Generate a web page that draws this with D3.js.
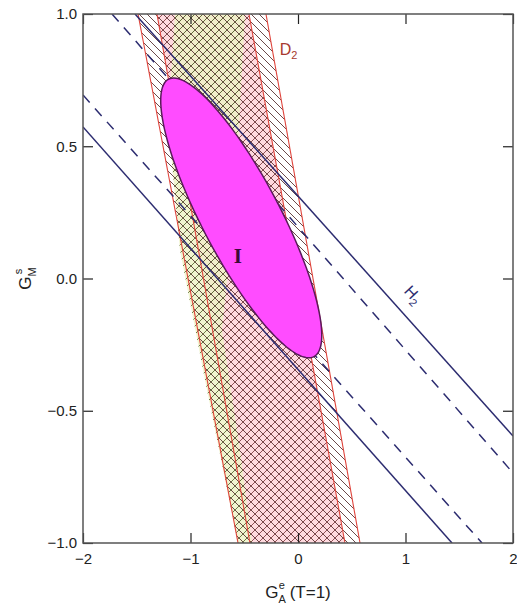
<!DOCTYPE html>
<html>
<head>
  <meta charset="utf-8">
  <title>GMs vs GAe</title>
  <script src="https://d3js.org/d3.v7.min.js"></script>
  <style>
    body { margin: 0; background: #fff; }
    text { font-family: "Liberation Sans", Arial, sans-serif; }
  </style>
</head>
<body>
<div id="vis"></div>
<script>
  // tick values
  var xTicks = [-2, -1, 0, 1, 2];
  var yTicks = [-1.0, -0.5, 0.0, 0.5, 1.0];

  // D2 bands, each boundary given as [[GAe, GMs], [GAe, GMs]]
  var outerLeft = [[-1.488, 1], [-0.558, -1]];
  var outerRight = [[-0.298, 1], [0.577, -1]];
  var innerLeft = [[-1.312, 1], [-0.447, -1]];
  var innerRight = [[-0.456, 1], [0.437, -1]];

  // greenish overlap region (outline vertices)
  var greenRegion = [[-1.144, 1], [-0.493, 1], [-0.586, 0.297], [-0.707, -0.195],
    [-0.540, -0.648], [-0.428, -1], [-0.558, -1], [-0.865, -0.384],
    [-1.098, 0.108], [-1.209, 0.599]];

  // H2 lines
  var h2Solid = [[[-1.516, 1], [2, -0.5955]], [[-2, 0.5728], [1.4326, -1]]];
  var h2Dashed = [[[-1.730, 1], [2, -0.7354]], [[-2, 0.6938], [1.7116, -1]]];

  // ellipse I: center, half extents, phase
  var ellipseCenter = [-0.528, 0.229];
  var ellipseRadii = [0.749, 0.529];
  var ellipsePhase = 147;

  var W = 517, H = 608;
  var margin = { top: 14, right: 4, bottom: 65, left: 83 };
  var w = W - margin.left - margin.right, h = H - margin.top - margin.bottom;

  var svg = d3.select('#vis').append('svg')
    .attr('width', W).attr('height', H);

  var defs = svg.append('defs');
  defs.append('clipPath').attr('id', 'clip')
    .append('rect').attr('width', w).attr('height', h);

  function hatch(id, dir, color) {
    var p = defs.append('pattern').attr('id', id)
      .attr('patternUnits', 'userSpaceOnUse')
      .attr('width', 8).attr('height', 8);
    p.append('path')
      .attr('d', dir > 0 ? 'M-2,2 l4,-4 M0,8 l8,-8 M6,10 l4,-4' : 'M-2,6 l4,4 M0,0 l8,8 M6,-2 l4,4')
      .attr('stroke', color).attr('stroke-width', 0.9);
  }
  hatch('hOuter', -1, '#5a3434');
  hatch('hInner', 1, '#804044');
  hatch('hGreen', 1, '#5c6a38');

  var g = svg.append('g')
    .attr('transform', 'translate(' + margin.left + ',' + margin.top + ')');

  var x = d3.scaleLinear().domain([-2, 2]).range([0, w]);
  var y = d3.scaleLinear().domain([-1, 1]).range([h, 0]);

  var line = d3.line().x(d => x(d[0])).y(d => y(d[1]));
  var polyLine = d3.line().x(d => x(d[0])).y(d => y(d[1])).curve(d3.curveLinearClosed);
  var smoothLine = d3.line().x(d => x(d[0])).y(d => y(d[1])).curve(d3.curveCardinalClosed);

  var plot = g.append('g').attr('clip-path', 'url(#clip)');

  function band(l, r) {
    return [l[0], r[0], r[1], l[1]];
  }

  // tints first, hatching on top so the overlaps cross-hatch
  plot.append('path').attr('d', polyLine(band(innerLeft, innerRight)))
    .attr('fill', '#ffdadf');
  plot.append('path').attr('d', polyLine(greenRegion))
    .attr('fill', '#eef2c4').attr('opacity', 0.8);
  plot.append('path').attr('d', polyLine(band(outerLeft, outerRight)))
    .attr('fill', 'url(#hOuter)');
  plot.append('path').attr('d', polyLine(band(innerLeft, innerRight)))
    .attr('fill', 'url(#hInner)');
  plot.append('path').attr('d', polyLine(greenRegion))
    .attr('fill', 'url(#hGreen)');

  [outerLeft, outerRight, innerLeft, innerRight].forEach(function (b) {
    plot.append('path').attr('d', line(b))
      .attr('fill', 'none').attr('stroke', '#e0443c').attr('stroke-width', 1.1);
  });

  h2Solid.forEach(function (b) {
    plot.append('path').attr('d', line(b))
      .attr('fill', 'none').attr('stroke', '#2c2c70').attr('stroke-width', 1.5);
  });
  h2Dashed.forEach(function (b) {
    plot.append('path').attr('d', line(b))
      .attr('fill', 'none').attr('stroke', '#2c2c70').attr('stroke-width', 1.5)
      .attr('stroke-dasharray', '10,8');
  });

  // ellipse outline
  var ph = ellipsePhase * Math.PI / 180;
  var ell = d3.range(0, 360, 3).map(function (a) {
    var t = a * Math.PI / 180;
    return [ellipseCenter[0] + ellipseRadii[0] * Math.cos(t),
            ellipseCenter[1] + ellipseRadii[1] * Math.cos(t - ph)];
  });
  plot.append('path').attr('d', smoothLine(ell))
    .attr('fill', '#ff4cff').attr('stroke', '#5a1a5a').attr('stroke-width', 1.5);

  // labels
  g.append('text').attr('x', x(-0.56)).attr('y', y(0.06))
    .attr('text-anchor', 'middle')
    .style('font-family', '"Liberation Serif", "DejaVu Serif", serif')
    .style('font-size', '21px').style('font-weight', 'bold')
    .attr('fill', '#3a0a3a').text('I');

  var d2 = g.append('text').attr('x', x(-0.17)).attr('y', y(0.845))
    .attr('fill', '#a83a30').style('font-size', '16px');
  d2.append('tspan').text('D');
  d2.append('tspan').attr('dy', 4).style('font-size', '11px').text('2');

  var h2 = g.append('text')
    .attr('transform', 'translate(' + x(0.98) + ',' + y(-0.05) + ') rotate(47)')
    .attr('fill', '#2c2c70').style('font-size', '16px');
  h2.append('tspan').text('H');
  h2.append('tspan').attr('dy', 4).style('font-size', '11px').text('2');

  // axes, ticks inward on all four sides
  function styleAxis(a) {
    a.select('.domain').remove();
    a.selectAll('.tick line').attr('stroke', '#222').attr('stroke-width', 1.2);
    a.selectAll('.tick text').attr('fill', '#222').style('font-size', '15px')
      .style('font-family', '"Liberation Sans", Arial, sans-serif');
  }
  var ax = g.append('g').attr('transform', 'translate(0,' + h + ')')
    .call(d3.axisBottom(x).tickValues(xTicks).tickFormat(d3.format('d'))
      .tickSizeInner(-10).tickPadding(8));
  styleAxis(ax);
  ax.selectAll('.tick text').attr('dy', '0.85em');
  var axT = g.append('g')
    .call(d3.axisTop(x).tickValues(xTicks).tickFormat('').tickSizeInner(-10));
  styleAxis(axT);
  var ay = g.append('g')
    .call(d3.axisLeft(y).tickValues(yTicks).tickFormat(d3.format('.1f'))
      .tickSizeInner(-10).tickPadding(6));
  styleAxis(ay);
  var ayR = g.append('g').attr('transform', 'translate(' + w + ',0)')
    .call(d3.axisRight(y).tickValues(yTicks).tickFormat('').tickSizeInner(-10));
  styleAxis(ayR);

  g.append('rect').attr('width', w).attr('height', h)
    .attr('fill', 'none').attr('stroke', '#555').attr('stroke-width', 1.5);

  // axis titles
  var xt = g.append('text').attr('x', w / 2).attr('y', h + 55)
    .attr('text-anchor', 'middle').attr('fill', '#222').style('font-size', '17px');
  xt.append('tspan').text('G');
  xt.append('tspan').attr('dy', 5).style('font-size', '11px').text('A');
  xt.append('tspan').attr('dy', -14).attr('dx', -7).style('font-size', '11px').text('e');
  xt.append('tspan').attr('dy', 9).text(' (T=1)');

  var yt = g.append('text')
    .attr('transform', 'translate(' + (-52) + ',' + (h / 2) + ') rotate(-90)')
    .attr('text-anchor', 'middle').attr('fill', '#222').style('font-size', '17px');
  yt.append('tspan').text('G');
  yt.append('tspan').attr('dy', 5).style('font-size', '11px').text('M');
  yt.append('tspan').attr('dy', -14).attr('dx', -7).style('font-size', '11px').text('s');
</script>
</body>
</html>
